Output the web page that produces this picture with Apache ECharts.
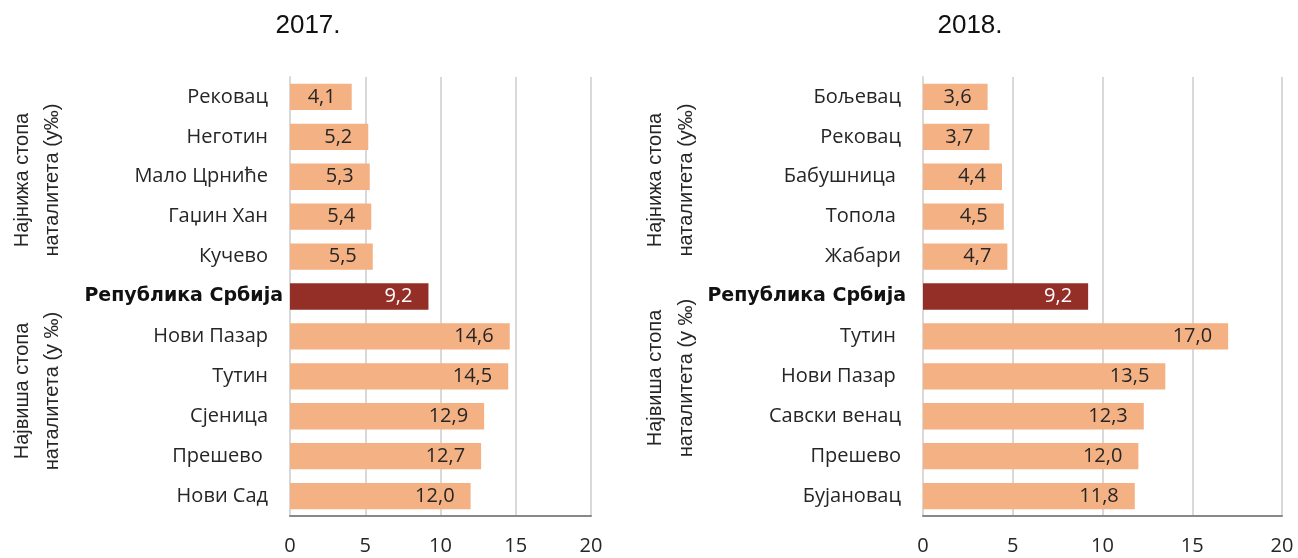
<!DOCTYPE html>
<html>
<head>
<meta charset="utf-8">
<script src="https://cdn.jsdelivr.net/npm/echarts@6/dist/echarts.min.js"></script>
<style>
  html, body { margin: 0; padding: 0; background: #fff; }
  #chart { width: 1298px; height: 558px; }
</style>
</head>
<body>
<div id="chart"></div>
<script>
  // 2017
  const cats2017 = ['Рековац', 'Неготин', 'Мало Црниће', 'Гаџин Хан', 'Кучево', 'Република Србија', 'Нови Пазар', 'Тутин', 'Сјеница', 'Прешево ', 'Нови Сад'];
  const vals2017 = [4.1, 5.2, 5.3, 5.4, 5.5, 9.2, 14.6, 14.5, 12.9, 12.7, 12.0];
  // 2018
  const cats2018 = ['Бољевац', 'Рековац', 'Бабушница ', 'Топола ', 'Жабари', 'Република Србија', 'Тутин ', 'Нови Пазар ', 'Савски венац', 'Прешево', 'Бујановац'];
  const vals2018 = [3.6, 3.7, 4.4, 4.5, 4.7, 9.2, 17.0, 13.5, 12.3, 12.0, 11.8];
  const xTicks = [0, 5, 10, 15, 20];
  const titles = ['2017.', '2018.'];
  const serbia = 'Република Србија';

  const font = '"Open Sans", sans-serif';
  const arial = '"Liberation Sans", Arial, sans-serif';
  const orange = '#F4B183';
  const red = '#932F26';

  function fmt(v) { return v.toFixed(1).replace('.', ','); }

  function barData(cats, vals) {
    return vals.map((v, i) => {
      const isRs = cats[i] === serbia;
      return {
        value: v,
        itemStyle: { color: isRs ? red : orange },
        label: { color: isRs ? '#fff' : '#262626' }
      };
    });
  }

  // boldShift: how far the bold label sits closer to the axis than the others
  function yAxis(idx, cats, boldShift) {
    return {
      type: 'category',
      gridIndex: idx,
      data: cats,
      inverse: true,
      axisLine: { show: true, lineStyle: { color: '#d9d9d9', width: 2 } },
      axisTick: { show: false },
      axisLabel: {
        margin: 22 - boldShift,
        fontSize: 20,
        fontFamily: font,
        color: '#262626',
        formatter: v => v === serbia ? '{b|' + v + '}' : '{n|' + v + '}',
        rich: {
          n: { fontSize: 20, fontFamily: font, color: '#262626', padding: [0, boldShift, 0, 0] },
          b: { fontWeight: 'bold', fontSize: 19, fontFamily: '"DejaVu Sans", sans-serif', color: '#111' }
        }
      }
    };
  }

  function xAxis(idx) {
    return {
      type: 'value',
      gridIndex: idx,
      min: xTicks[0],
      max: xTicks[xTicks.length - 1],
      interval: 5,
      axisLine: { show: true, onZero: false, lineStyle: { color: '#888', width: 2 } },
      axisTick: { show: false },
      splitLine: { show: true, lineStyle: { color: '#d9d9d9', width: 2 } },
      axisLabel: { margin: 20, fontSize: 20, fontFamily: font, color: '#262626' }
    };
  }

  function series(idx, cats, vals) {
    return {
      type: 'bar',
      xAxisIndex: idx,
      yAxisIndex: idx,
      data: barData(cats, vals),
      barCategoryGap: '34%',
      label: {
        show: true,
        position: 'insideRight',
        distance: 16,
        fontSize: 20,
        fontFamily: font,
        formatter: p => fmt(p.value)
      }
    };
  }

  function vText(x, y, text) {
    return {
      type: 'text',
      x: x, y: y,
      rotation: Math.PI / 2,
      style: {
        text: text,
        fontSize: 20,
        fontFamily: arial,
        fill: '#262626',
        align: 'center',
        verticalAlign: 'middle'
      }
    };
  }

  const titleStyle = { fontSize: 26, fontWeight: 'normal', fontFamily: arial, color: '#111' };

  const chart = echarts.init(document.getElementById('chart'));
  chart.setOption({
    animation: false,
    title: [
      { text: titles[0], left: 303, top: 8, textAlign: 'center', textStyle: titleStyle },
      { text: titles[1], left: 965, top: 8, textAlign: 'center', textStyle: titleStyle }
    ],
    grid: [
      { left: 290, width: 301, top: 77, height: 439 },
      { left: 923, width: 359, top: 77, height: 439 }
    ],
    xAxis: [xAxis(0), xAxis(1)],
    yAxis: [yAxis(0, cats2017, 15), yAxis(1, cats2018, 5)],
    series: [series(0, cats2017, vals2017), series(1, cats2018, vals2018)],
    graphic: [
      vText(22, 180, 'Најнижа стопа'),
      vText(52, 180, 'наталитета (у‰)'),
      vText(22, 391, 'Највиша стопа'),
      vText(52, 391, 'наталитета (у ‰)'),
      vText(655, 180, 'Најнижа стопа'),
      vText(686, 180, 'наталитета (у‰)'),
      vText(655, 378, 'Највиша стопа'),
      vText(686, 378, 'наталитета (у ‰)')
    ]
  });
</script>
</body>
</html>
